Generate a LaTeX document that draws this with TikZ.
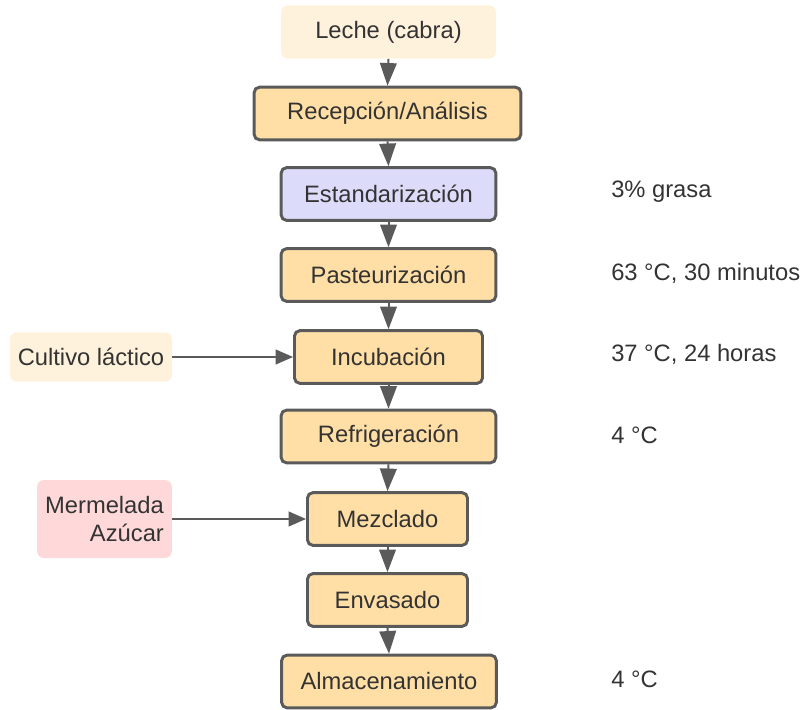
\documentclass[tikz,border=0pt]{standalone}
\usepackage{fontspec}
\setmainfont{Liberation Sans}
\usetikzlibrary{arrows.meta}
\definecolor{procfill}{HTML}{FFDFA5}
\definecolor{stdfill}{HTML}{DCDCFA}
\definecolor{inpfill}{HTML}{FFF2DC}
\definecolor{pinkfill}{HTML}{FFD9D9}
\definecolor{edge}{HTML}{5A5A5A}
\definecolor{txt}{HTML}{333333}
\tikzset{
  every node/.style={font=\fontsize{17.8}{21}\selectfont, text=txt},
  procbox/.style={draw=edge, line width=2.2pt, rounded corners=4pt, fill=procfill,
    minimum height=39.5pt, inner sep=0pt},
  inbox/.style={rounded corners=5pt, fill=inpfill, minimum height=40pt, inner sep=0pt},
  note/.style={anchor=west, inner sep=0pt},
  flow/.style={draw=edge, line width=1.5pt, -{Triangle[length=17pt,width=12.5pt]}},
  feed/.style={draw=edge, line width=1.5pt, -{Triangle[length=13pt,width=11pt]}}
}
\begin{document}
\begin{tikzpicture}[x=0.75pt,y=-0.75pt]
\useasboundingbox (0,0) rectangle (803,710);
% main process column
\node[inbox, minimum width=161pt] (leche) at (388.5,32) {Leche (cabra)};
\node[procbox, minimum width=200pt] (recep) at (387.5,113.5) {Recepción/Análisis};
\node[procbox, fill=stdfill, minimum width=161pt] (estand) at (388.5,194) {Estandarización};
\node[procbox, minimum width=161pt] (paste) at (388.5,275) {Pasteurización};
\node[procbox, minimum width=141pt] (incub) at (388.5,357) {Incubación};
\node[procbox, minimum width=161pt] (refri) at (388.5,436.5) {Refrigeración};
\node[procbox, minimum width=120pt] (mezcl) at (387.5,519) {Mezclado};
\node[procbox, minimum width=120pt] (envas) at (387.5,600) {Envasado};
\node[procbox, minimum width=161pt] (almac) at (389,681.5) {Almacenamiento};
% side inputs
\node[inbox, minimum width=121.5pt, minimum height=37pt] (cultivo) at (91,357) {Cultivo láctico};
\node[inbox, fill=pinkfill, minimum width=101pt, minimum height=58.5pt, align=right] (merm) at (104.5,519) {Mermelada\\Azúcar};
% process conditions
\node[note] (c1) at (611,192) {3\% grasa};
\node[note] (c2) at (611,273) {63 °C, 30 minutos};
\node[note] (c3) at (611,354) {37 °C, 24 horas};
\node[note] (c4) at (611,435) {4 °C};
\node[note] (c5) at (611,679) {4 °C};
% connectors
\draw[flow] (leche.south) -- (recep.north);
\draw[flow] (recep.south) -- (estand.north);
\draw[flow] (estand.south) -- (paste.north);
\draw[flow] (paste.south) -- (incub.north);
\draw[flow] (incub.south) -- (refri.north);
\draw[flow] (refri.south) -- (mezcl.north);
\draw[flow] (mezcl.south) -- (envas.north);
\draw[flow] (envas.south) -- (almac.north);
\draw[feed] (cultivo.east) -- (incub.west);
\draw[feed] (merm.east) -- (mezcl.west);
\end{tikzpicture}
\end{document}
